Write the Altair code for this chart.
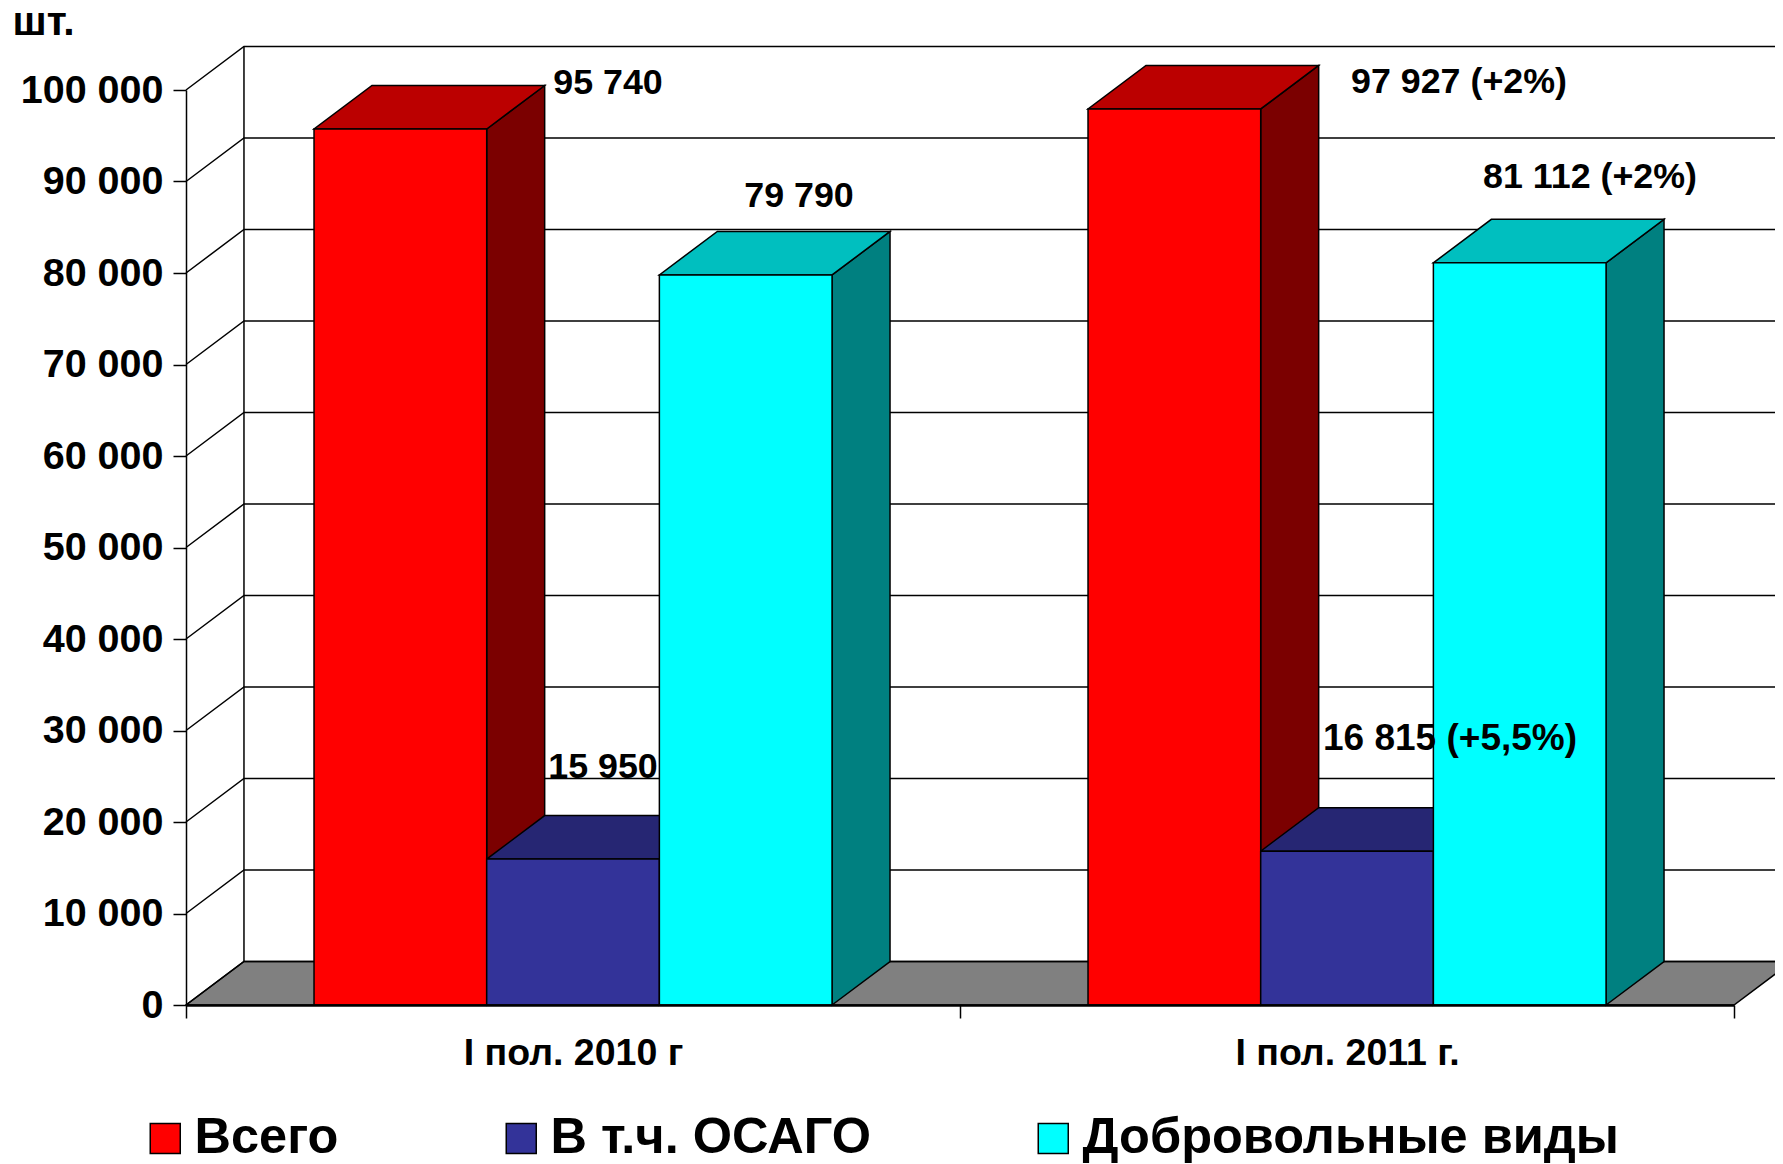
import altair as alt
import pandas as pd

FONT = "Liberation Sans"
categories = ["I пол. 2010 г", "I пол. 2011 г."]
series = ["Всего", "В т.ч. ОСАГО", "Добровольные виды"]
values_2010 = [95740, 15950, 79790]
values_2011 = [97927, 16815, 81112]
front_colors = ["#FF0000", "#333399", "#00FFFF"]
top_colors = ["#BB0000", "#262673", "#00BFBF"]
side_colors = ["#7B0000", "#1A1A4D", "#008080"]
tick_values = [0, 10000, 20000, 30000, 40000, 50000, 60000, 70000, 80000, 90000, 100000]

label_texts = ["95 740", "15 950", "79 790", "97 927 (+2%)", "81 112 (+2%)"]
label_x = [0.5452, 0.5388, 0.7920, 1.6447, 1.8140]
label_y = [100765, 26000, 88459, 100874, 90536]
big_label_text = ["16 815 (+5,5%)"]
big_label_x = [1.6331]
big_label_y = [29071]

DX, DY = 0.0749, 4754
GAP, BAR = 0.1654, 0.2231
XEND = 2

fronts, faces, grid = [], [], []
fid = 0
for g, vals in enumerate([values_2010, values_2011]):
    for s, v in enumerate(vals):
        x0 = g + GAP + s * BAR
        x1 = x0 + BAR
        fronts.append(dict(series=series[s], x=x0, x2=x1, y=0, y2=v))
        fid += 1
        for px, a, b in [(x1, 0, v), (x1 + DX, DY, v + DY)]:
            faces.append(dict(id=f"{fid:02d}s", x=px, y=a, y2=b, color=side_colors[s]))
        for px, a, b in [(x0, v, v), (x0 + DX, v, v + DY), (x1, v, v + DY), (x1 + DX, v + DY, v + DY)]:
            faces.append(dict(id=f"{fid:02d}t", x=px, y=a, y2=b, color=top_colors[s]))

floor = pd.DataFrame([
    dict(x=0, y=0, y2=0), dict(x=DX, y=0, y2=DY),
    dict(x=XEND, y=0, y2=DY), dict(x=XEND + DX, y=DY, y2=DY)])

for v in tick_values:
    for px, py in [(0, v), (DX, v + DY), (XEND + DX, v + DY)]:
        grid.append(dict(v=v, x=px, y=py))

xs = alt.Scale(domain=[0, 2], nice=False, zero=False)
ys = alt.Scale(domain=[0, 100000], nice=False)

xaxis = alt.Axis(
    values=[0, 0.5, 1, 1.5, 2], title=None, grid=False,
    labelExpr=f"datum.value==0.5?'{categories[0]}':datum.value==1.5?'{categories[1]}':''",
    tickOpacity={"condition": {"test": "datum.value==0.5||datum.value==1.5", "value": 0}, "value": 1},
    tickColor="black", tickSize=13, tickWidth=1.5, domainColor="black", domainWidth=2.5,
    labelFont=FONT, labelFontWeight="bold", labelFontSize=37.5, labelColor="black",
    labelPadding=16, labelOverlap=False, labelFlush=False, labelLimit=600, zindex=1)
yaxis = alt.Axis(
    values=tick_values, title=None, grid=False,
    labelExpr="replace(format(datum.value,','),',',' ')",
    tickColor="black", tickSize=13, tickWidth=1.5, domainColor="black", domainWidth=1.5,
    labelFont=FONT, labelFontWeight="bold", labelFontSize=39.5, labelColor="black",
    labelPadding=10, labelOverlap=False, labelFlush=False)

X = alt.X("x:Q", scale=xs, axis=xaxis)
Y = alt.Y("y:Q", scale=ys, axis=yaxis)

floor_layer = alt.Chart(floor).mark_area(color="#808080", stroke="black", strokeWidth=1.5, opacity=1).encode(
    x=X, y=Y, y2="y2:Q")
grid_layer = alt.Chart(pd.DataFrame(grid)).mark_line(color="black", strokeWidth=1.5).encode(
    x=X, y=Y, detail="v:N", order=alt.Order("x:Q"))
wall_back = alt.Chart(pd.DataFrame([dict(x=DX, y=DY, y2=100000 + DY)])).mark_rule(color="black", strokeWidth=1.5).encode(
    x=X, y=Y, y2="y2:Q")
face_layer = alt.Chart(pd.DataFrame(faces)).mark_area(stroke="black", strokeWidth=1.5, opacity=1).encode(
    x=X, y=Y, y2="y2:Q", detail="id:N", fill=alt.Fill("color:N", scale=None))
front_layer = alt.Chart(pd.DataFrame(fronts)).mark_rect(stroke="black", strokeWidth=1.5, opacity=1).encode(
    x=X, x2="x2:Q", y=Y, y2="y2:Q",
    color=alt.Color("series:N",
                    scale=alt.Scale(domain=series, range=front_colors),
                    sort=series,
                    legend=alt.Legend(
                        title=None, orient="none", legendX=-46, legendY=1023,
                        direction="horizontal", columns=3, columnPadding=157,
                        symbolType="square", symbolSize=900, symbolStrokeColor="black",
                        symbolStrokeWidth=1.5, symbolOpacity=1, labelOffset=4,
                        labelFont=FONT, labelFontWeight="bold", labelFontSize=50.5,
                        labelColor="black", labelLimit=800, padding=0)))
labels = pd.DataFrame(dict(x=label_x, y=label_y, text=label_texts))
label_layer = alt.Chart(labels).mark_text(
    font=FONT, fontWeight="bold", fontSize=35.8, color="black", align="center", baseline="middle"
).encode(x=X, y=Y, text="text:N")
big_labels = pd.DataFrame(dict(x=big_label_x, y=big_label_y, text=big_label_text))
big_label_layer = alt.Chart(big_labels).mark_text(
    font=FONT, fontWeight="bold", fontSize=37, color="black", align="center", baseline="middle"
).encode(x=X, y=Y, text="text:N")
unit_layer = alt.Chart(pd.DataFrame(dict(x=[-0.224], y=[107322], text=["шт."]))).mark_text(
    font=FONT, fontWeight="bold", fontSize=41, color="black", align="left", baseline="middle"
).encode(x=X, y=Y, text="text:N")

chart = alt.layer(
    floor_layer, grid_layer, wall_back, face_layer, front_layer, label_layer, big_label_layer, unit_layer
).properties(
    width=1548, height=915,
    padding={"left": 178, "top": 82, "right": 41, "bottom": 159},
    autosize=alt.AutoSizeParams(type="none"),
    background="white",
).configure_view(stroke=None)

chart.save("out.html", embed_options={"renderer": "svg", "actions": False})
